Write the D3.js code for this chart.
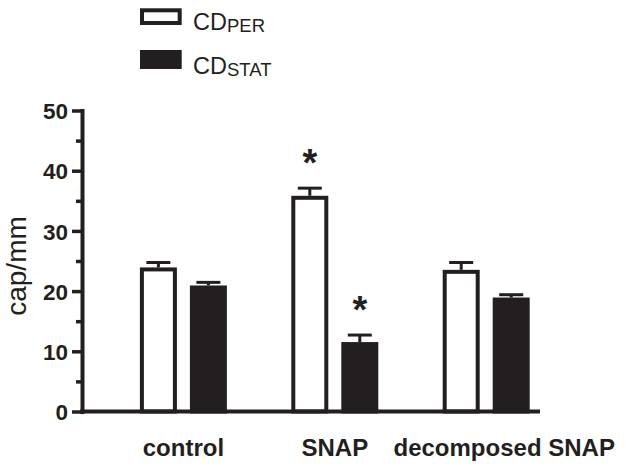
<!DOCTYPE html>
<html><head><meta charset="utf-8">
<script src="https://cdn.jsdelivr.net/npm/d3@7"></script>
<style>body{margin:0;background:#fff} svg{display:block}</style>
</head><body><svg id="c" width="630" height="467"></svg>
<script>
// ---- data ----
const categories = ["control", "SNAP", "decomposed SNAP"];
const seriesKeys = ["per", "stat"];
const perValues  = [23.6, 35.5, 23.2];
const perErrors  = [1.15, 1.6, 1.55];
const statValues = [20.6, 11.2, 18.6];
const statErrors = [0.85, 1.5, 0.8];
const perSignificant  = [false, true, false];
const statSignificant = [false, true, false];
const yTicks = [0, 10, 20, 30, 40, 50];
const yMinorTicks = [5, 15, 25, 35, 45];
const legendMain = ["CD", "CD"];
const legendSub = ["PER", "STAT"];
const yLabel = "cap/mm";

// ---- layout ----
const ink = "#231f20";
const font = "'Liberation Sans', Arial, Helvetica, sans-serif";
const svg = d3.select("#c");

const y = d3.scaleLinear().domain([0, 50]).range([411.5, 110.5]);
const x0 = d3.scaleBand().domain(categories).range([107.7, 561.9]);
const x1 = d3.scaleBand().domain(seriesKeys)
  .range([x0.bandwidth() / 2 - 50, x0.bandwidth() / 2 + 50]);
const barW = 33;

const rows = categories.map((c, i) => [
  {cat: c, key: "per",  v: perValues[i],  e: perErrors[i],  sig: perSignificant[i]},
  {cat: c, key: "stat", v: statValues[i], e: statErrors[i], sig: statSignificant[i]}
]).flat();
const cx = d => x0(d.cat) + x1(d.key) + x1.bandwidth() / 2;

// bars
svg.append("g").selectAll("rect").data(rows).join("rect")
  .attr("x", d => cx(d) - barW / 2)
  .attr("y", d => y(d.v))
  .attr("width", barW)
  .attr("height", d => y(0) - y(d.v))
  .attr("fill", d => d.key === "per" ? "#fff" : ink)
  .attr("stroke", ink)
  .attr("stroke-width", 4);

// error bars
const eb = svg.append("g").attr("stroke", ink).attr("stroke-width", 3);
eb.selectAll("line.v").data(rows).join("line").attr("class", "v")
  .attr("x1", cx).attr("x2", cx)
  .attr("y1", d => y(d.v) - 2).attr("y2", d => y(d.v + d.e));
eb.selectAll("line.h").data(rows).join("line").attr("class", "h")
  .attr("x1", d => cx(d) - 12).attr("x2", d => cx(d) + 12)
  .attr("y1", d => y(d.v + d.e)).attr("y2", d => y(d.v + d.e));

// significance asterisks
svg.append("g").selectAll("text").data(rows.filter(d => d.sig)).join("text")
  .attr("x", cx).attr("y", d => y(d.v + d.e) - 12)
  .attr("text-anchor", "middle")
  .attr("font-family", font).attr("font-weight", "bold").attr("font-size", 38)
  .attr("fill", ink).text("*");

// y axis (major)
const ya = svg.append("g").attr("transform", "translate(82,0)")
  .call(d3.axisLeft(y).tickValues(yTicks).tickSize(10).tickSizeOuter(0).tickPadding(4));
ya.select(".domain").attr("stroke", ink).attr("stroke-width", 4).attr("stroke-linecap", "square");
ya.selectAll(".tick line").attr("stroke", ink).attr("stroke-width", 3.5);
ya.selectAll(".tick text").attr("font-family", font).attr("font-weight", "bold")
  .attr("font-size", 22.5).attr("fill", ink).attr("dy", "0.36em");

// y axis (minor)
const ym = svg.append("g").attr("transform", "translate(82,0)")
  .call(d3.axisLeft(y).tickValues(yMinorTicks).tickSize(6).tickFormat(""));
ym.select(".domain").remove();
ym.selectAll(".tick line").attr("stroke", ink).attr("stroke-width", 3.5);

// x axis baseline
svg.append("line")
  .attr("x1", 82).attr("x2", 538).attr("y1", y(0)).attr("y2", y(0))
  .attr("stroke", ink).attr("stroke-width", 4).attr("stroke-linecap", "square");

// category labels
const xa = svg.append("g").attr("transform", `translate(0,${y(0)})`)
  .call(d3.axisBottom(x0).tickSize(0).tickPadding(0));
xa.select(".domain").remove();
xa.selectAll(".tick text")
  .attr("font-family", font).attr("font-weight", "bold").attr("font-size", 24)
  .attr("fill", ink).attr("y", 44.5).attr("dy", 0)
  .attr("dx", (d, i) => i === categories.length - 1 ? 18 : 0);

// y label
svg.append("text")
  .attr("transform", "translate(26,266) rotate(-90)")
  .attr("text-anchor", "middle")
  .attr("font-family", font).attr("font-size", 28).attr("fill", ink)
  .text(yLabel);

// legend
const lg = svg.append("g");
lg.append("rect").attr("x", 142).attr("y", 10.3).attr("width", 37.7).attr("height", 12.7)
  .attr("fill", "#fff").attr("stroke", ink).attr("stroke-width", 4);
lg.append("rect").attr("x", 140).attr("y", 50).attr("width", 41.7).attr("height", 19)
  .attr("fill", ink);
[29.5, 74].forEach((by, i) => {
  const t = lg.append("text").attr("x", 193).attr("y", by)
    .attr("font-family", font).attr("font-size", 23.5).attr("fill", ink);
  t.append("tspan").text(legendMain[i]);
  t.append("tspan").attr("font-size", 18.5).attr("dy", 2).text(legendSub[i]);
});
</script>
</body></html>
